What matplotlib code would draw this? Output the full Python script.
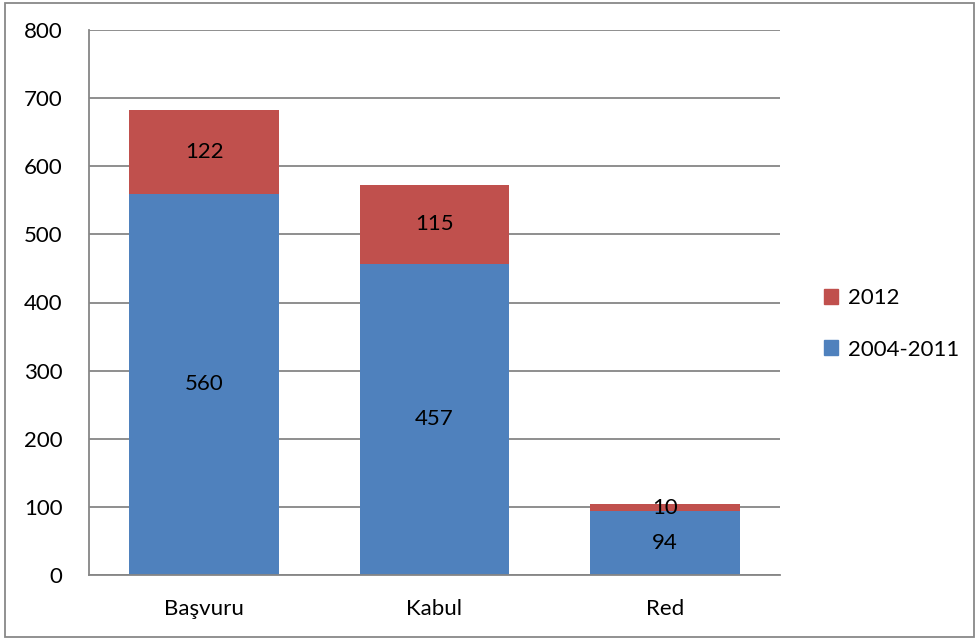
import matplotlib
matplotlib.use('Agg')
import matplotlib.pyplot as plt
from matplotlib.patches import Rectangle, Patch
import numpy as np

categories = ['Başvuru', 'Kabul', 'Red']
series_2004_2011 = [560, 457, 94]
series_2012 = [122, 115, 10]
y_ticks = [0, 100, 200, 300, 400, 500, 600, 700, 800]

BLUE = '#4F81BD'
RED = '#C0504D'
GRID = '#868686'

plt.rcParams['font.family'] = ['Lato', 'DejaVu Sans']

fig = plt.figure(figsize=(9.78, 6.44), dpi=100)
ax = fig.add_axes([89 / 978, 69 / 644, 691 / 978, 545 / 644])

x = np.arange(len(categories))
ax.bar(x, series_2004_2011, width=0.65, color=BLUE, zorder=2, label='2004-2011')
ax.bar(x, series_2012, width=0.65, bottom=series_2004_2011, color=RED, zorder=2, label='2012')

for i in range(len(categories)):
    lo = series_2004_2011[i]
    hi = series_2012[i]
    ax.text(x[i], lo / 2, str(lo), ha='center', va='center', fontsize=16, color='black', zorder=3)
    ax.text(x[i], lo + hi / 2, str(hi), ha='center', va='center', fontsize=16, color='black', zorder=3)

ax.set_xlim(-0.5, len(categories) - 0.5)
ax.set_ylim(0, 800)
ax.set_yticks(y_ticks)
ax.set_xticks(x)
ax.set_xticklabels(categories)
ax.tick_params(axis='both', length=0, labelsize=16, colors='black')
ax.tick_params(axis='y', pad=19)
ax.tick_params(axis='x', pad=17)
ax.yaxis.grid(True, color=GRID, linewidth=1.3, zorder=0)
ax.set_axisbelow(True)
for s in ['top', 'right']:
    ax.spines[s].set_visible(False)
for s in ['left', 'bottom']:
    ax.spines[s].set_color(GRID)
    ax.spines[s].set_linewidth(1.3)

handles = [Patch(color=RED, label='2012'), Patch(color=BLUE, label='2004-2011')]
fig.legend(handles=handles, loc='center left', bbox_to_anchor=(804 / 978, 320 / 644),
           frameon=False, fontsize=16, handlelength=0.65, handleheight=0.65,
           handletextpad=0.45, labelspacing=1.4)

fig.add_artist(Rectangle((5 / 978, 7 / 644), 969 / 978, 634 / 644, transform=fig.transFigure,
                         fill=False, edgecolor='#888888', linewidth=1.3))

fig.savefig('out.png', dpi=100)
